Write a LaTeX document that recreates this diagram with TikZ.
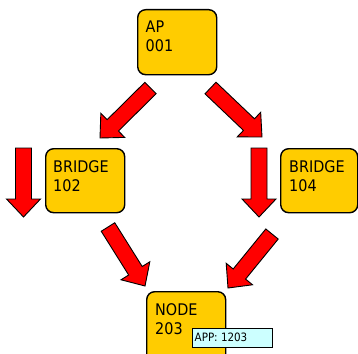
\documentclass[tikz,border=0pt]{standalone}
\usepackage{fontspec}
\setmainfont{DejaVu Sans Condensed}
\usetikzlibrary{calc}
\definecolor{boxgold}{HTML}{FFCC00}
\definecolor{tagcyan}{HTML}{CCFFFF}
\tikzset{
  box/.style={draw=black, line width=1.4pt, fill=boxgold, rounded corners=8pt,
    anchor=north west, inner sep=0pt, minimum width=79pt, minimum height=64pt},
  lbl/.style={anchor=base west, inner sep=0pt, font=\fontsize{16}{19}\selectfont},
  tag/.style={draw=black, line width=1.3pt, fill=tagcyan, anchor=north west,
    inner sep=0pt, minimum width=80pt, minimum height=19pt},
  tagtext/.style={anchor=base west, inner sep=0pt, font=\fontsize{11.5}{13}\selectfont},
  fatarrow/.style={draw=black, line width=0.9pt, fill=red, line join=miter}
}
% block arrow from a tail coordinate #1 to a tip coordinate #2
\newcommand\fatarrowpath[2]{%
  \path ($(#2)!18pt!(#1)$) coordinate (#1-neck);
  \draw[fatarrow] ($(#1)!8pt!90:(#2)$) -- ($(#1-neck)!8pt!90:(#2)$)
    -- ($(#1-neck)!17pt!90:(#2)$) -- (#2) -- ($(#1-neck)!17pt!-90:(#2)$)
    -- ($(#1-neck)!8pt!-90:(#2)$) -- ($(#1)!8pt!-90:(#2)$) -- cycle;
}
\begin{document}
\begin{tikzpicture}[x=1pt, y=-1pt]
\useasboundingbox (0,0) rectangle (358,353);
\clip (0,0) rectangle (358,353);

% stations
\node[box, minimum height=65pt] (ap) at (137,9) {};
\node[lbl] (ap-name) at (145.5,33) {AP};
\node[lbl] (ap-id) at (145.5,52) {001};

\node[box] (b102) at (45,148) {};
\node[lbl] (b102-name) at (53,172) {BRIDGE};
\node[lbl] (b102-id) at (53,191) {102};

\node[box, minimum width=77pt] (b104) at (280,148) {};
\node[lbl] (b104-name) at (289,172) {BRIDGE};
\node[lbl] (b104-id) at (289,191) {104};

\node[box, minimum height=75pt] (n203) at (146,291) {};
\node[lbl] (n203-name) at (155,315) {NODE};
\node[lbl] (n203-id) at (155,334) {203};

\node[tag] (app) at (192,328) {};
\node[tagtext] (app-text) at (194.5,341) {APP: 1203};

% arrow tails and tips
\coordinate (t1) at (150.5,88);  \coordinate (h1) at (100,138);
\coordinate (t2) at (210.5,88);  \coordinate (h2) at (262,137);
\coordinate (t3) at (23.5,148);  \coordinate (h3) at (23.5,217);
\coordinate (t4) at (259,148);   \coordinate (h4) at (259,217);
\coordinate (t5) at (108,227);   \coordinate (h5) at (145,286);
\coordinate (t6) at (272,234);   \coordinate (h6) at (228,288);

\fatarrowpath{t1}{h1}
\fatarrowpath{t2}{h2}
\fatarrowpath{t3}{h3}
\fatarrowpath{t4}{h4}
\fatarrowpath{t5}{h5}
\fatarrowpath{t6}{h6}
\end{tikzpicture}
\end{document}
